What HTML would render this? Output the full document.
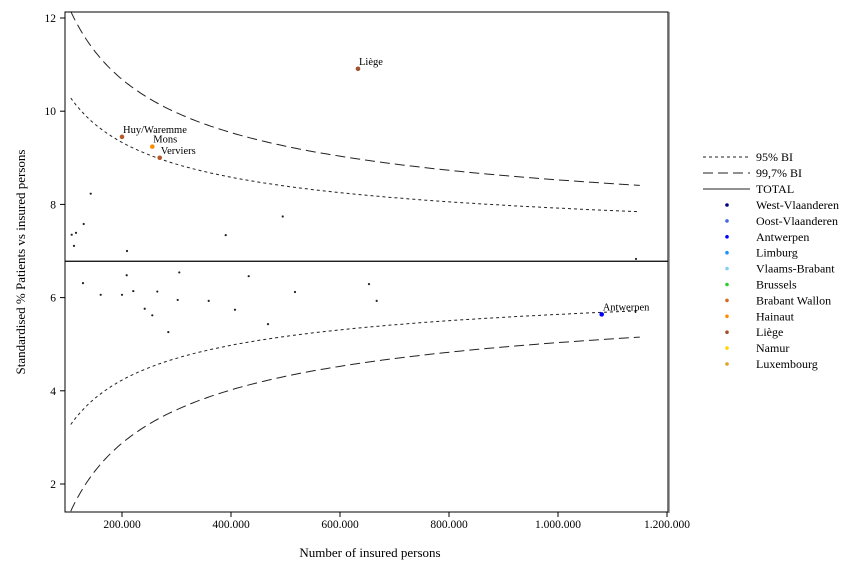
<!DOCTYPE html>
<html><head><meta charset="utf-8"><style>
body{margin:0;background:#fff;}
svg{display:block;font-family:"Liberation Serif",serif;}
</style></head><body>
<svg id="chart" width="864" height="576" viewBox="0 0 864 576">
<rect x="0" y="0" width="864" height="576" fill="#fff"/>
<g id="plot"></g>
</svg>
<script>
const xTicks=[200000,400000,600000,800000,1000000,1200000];
const xTickLabels=["200.000","400.000","600.000","800.000","1.000.000","1.200.000"];
const yTicks=[2,4,6,8,10,12];
const totalValue=6.78;
const ciSpread=582;
const ciNmin=106000, ciNmax=1150000;
const greyX=[107700,115600,111900,129700,142600,209200,390300,494900,1143100,128400,160900,200000,208600,220700,241700,255600,264800,305100,285000,302200,359100,407300,432500,467900,517400,653200,667300];
const greyY=[7.35,7.39,7.11,7.58,8.23,7.0,7.34,7.74,6.83,6.31,6.06,6.06,6.48,6.14,5.76,5.62,6.13,6.54,5.26,5.95,5.93,5.74,6.46,5.43,6.12,6.29,5.93];
const hlNames=["Huy/Waremme","Mons","Verviers","Liège","Antwerpen"];
const hlX=[200000,255600,269200,633000,1080200];
const hlY=[9.45,9.24,9.0,10.91,5.64];
const hlColors=["#b5582a","#ff8c00","#b5582a","#a0522d","#0000ff"];
const legendNames=["West-Vlaanderen","Oost-Vlaanderen","Antwerpen","Limburg","Vlaams-Brabant","Brussels","Brabant Wallon","Hainaut","Liège","Namur","Luxembourg"];
const legendColors=["#00007f","#4169e1","#0000ff","#1e90ff","#87cefa","#32cd32","#d2691e","#ff8c00","#a0522d","#ffd700","#daa520"];

const NS="http://www.w3.org/2000/svg";
const g=document.getElementById('plot');
const L=65,R=668,T=12,B=512;
function xs(v){return 13+v*0.000545;}
function ys(v){return 18+(12-v)*46.6;}
function mk(tag,attrs,parent){const e=document.createElementNS(NS,tag);for(const k in attrs)e.setAttribute(k,attrs[k]);(parent||g).appendChild(e);return e;}

let f=mk('rect',{x:L,y:T,width:R-L,height:B-T,fill:'none',stroke:'#000','stroke-width':1});


mk('line',{x1:R+1,y1:T,x2:R+1,y2:B+1,stroke:'#888','stroke-width':1.5});

xTicks.forEach((v,i)=>{
  const x=xs(v);
  let t=mk('line',{x1:x,y1:B,x2:x,y2:B+5,stroke:'#000'});
  
  
  let tx=mk('text',{x:x,y:B+16,'font-size':11.5,'text-anchor':'middle'});
  tx.textContent=xTickLabels[i];
  
  
});
yTicks.forEach(v=>{
  const y=ys(v);
  let t=mk('line',{x1:L-5,y1:y,x2:L,y2:y,stroke:'#000'});
  
  
  let tx=mk('text',{x:L-9,y:y+4,'font-size':11.5,'text-anchor':'end'});
  tx.textContent=v;
  
  
});
let xt=mk('text',{x:370,y:557,'font-size':13,'text-anchor':'middle'});
xt.textContent='Number of insured persons';


let yt=mk('text',{x:0,y:0,'font-size':13,'text-anchor':'middle',transform:'translate(25,262) rotate(-90)'});
yt.textContent='Standardised % Patients vs insured persons';



let tl=mk('line',{x1:L,y1:ys(totalValue),x2:R,y2:ys(totalValue),stroke:'#000','stroke-width':1.2});



function ciPath(z,sign){
  let d='';
  for(let k=0;k<=120;k++){
    const n=ciNmin*Math.pow(ciNmax/ciNmin,k/120);
    const v=totalValue+sign*z*ciSpread/Math.sqrt(n);
    d+=(k?'L':'M')+xs(n).toFixed(1)+','+ys(v).toFixed(1);
  }
  return d;
}
[[1.96,1,'ci95-upper','3,3'],[1.96,-1,'ci95-lower','3,3'],[3,1,'ci997-upper','10,5'],[3,-1,'ci997-lower','10,5']].forEach(c=>{
  let p=mk('path',{d:ciPath(c[0],c[1]),fill:'none',stroke:'#222','stroke-width':1,'stroke-dasharray':c[3]});
  
  
});

greyX.forEach((v,i)=>{
  let c=mk('circle',{cx:xs(v),cy:ys(greyY[i]),r:1.1,fill:'#222'});
  
  
});
hlX.forEach((v,i)=>{
  let c=mk('circle',{cx:xs(v),cy:ys(hlY[i]),r:2.3,fill:hlColors[i]});
  
  
  let t=mk('text',{x:xs(v)+1,y:ys(hlY[i])-4,'font-size':10.5});
  t.textContent=hlNames[i];
  
  
});

const lg=mk('g',{});


[['95% BI','3,3'],['99,7% BI','10,5'],['TOTAL','']].forEach((e,i)=>{
  const y=157+i*16;
  let l=mk('line',{x1:703,y1:y,x2:750,y2:y,stroke:'#222','stroke-dasharray':e[1]},lg);
  
  
  let t=mk('text',{x:756,y:y+4,'font-size':12},lg);
  t.textContent=e[0];
  
  
});
legendNames.forEach((n,i)=>{
  const y=205+i*15.9;
  let c=mk('circle',{cx:727,cy:y,r:1.8,fill:legendColors[i]},lg);
  
  
  let t=mk('text',{x:756,y:y+4,'font-size':12},lg);
  t.textContent=n;
  
  
});
</script>
</body></html>
